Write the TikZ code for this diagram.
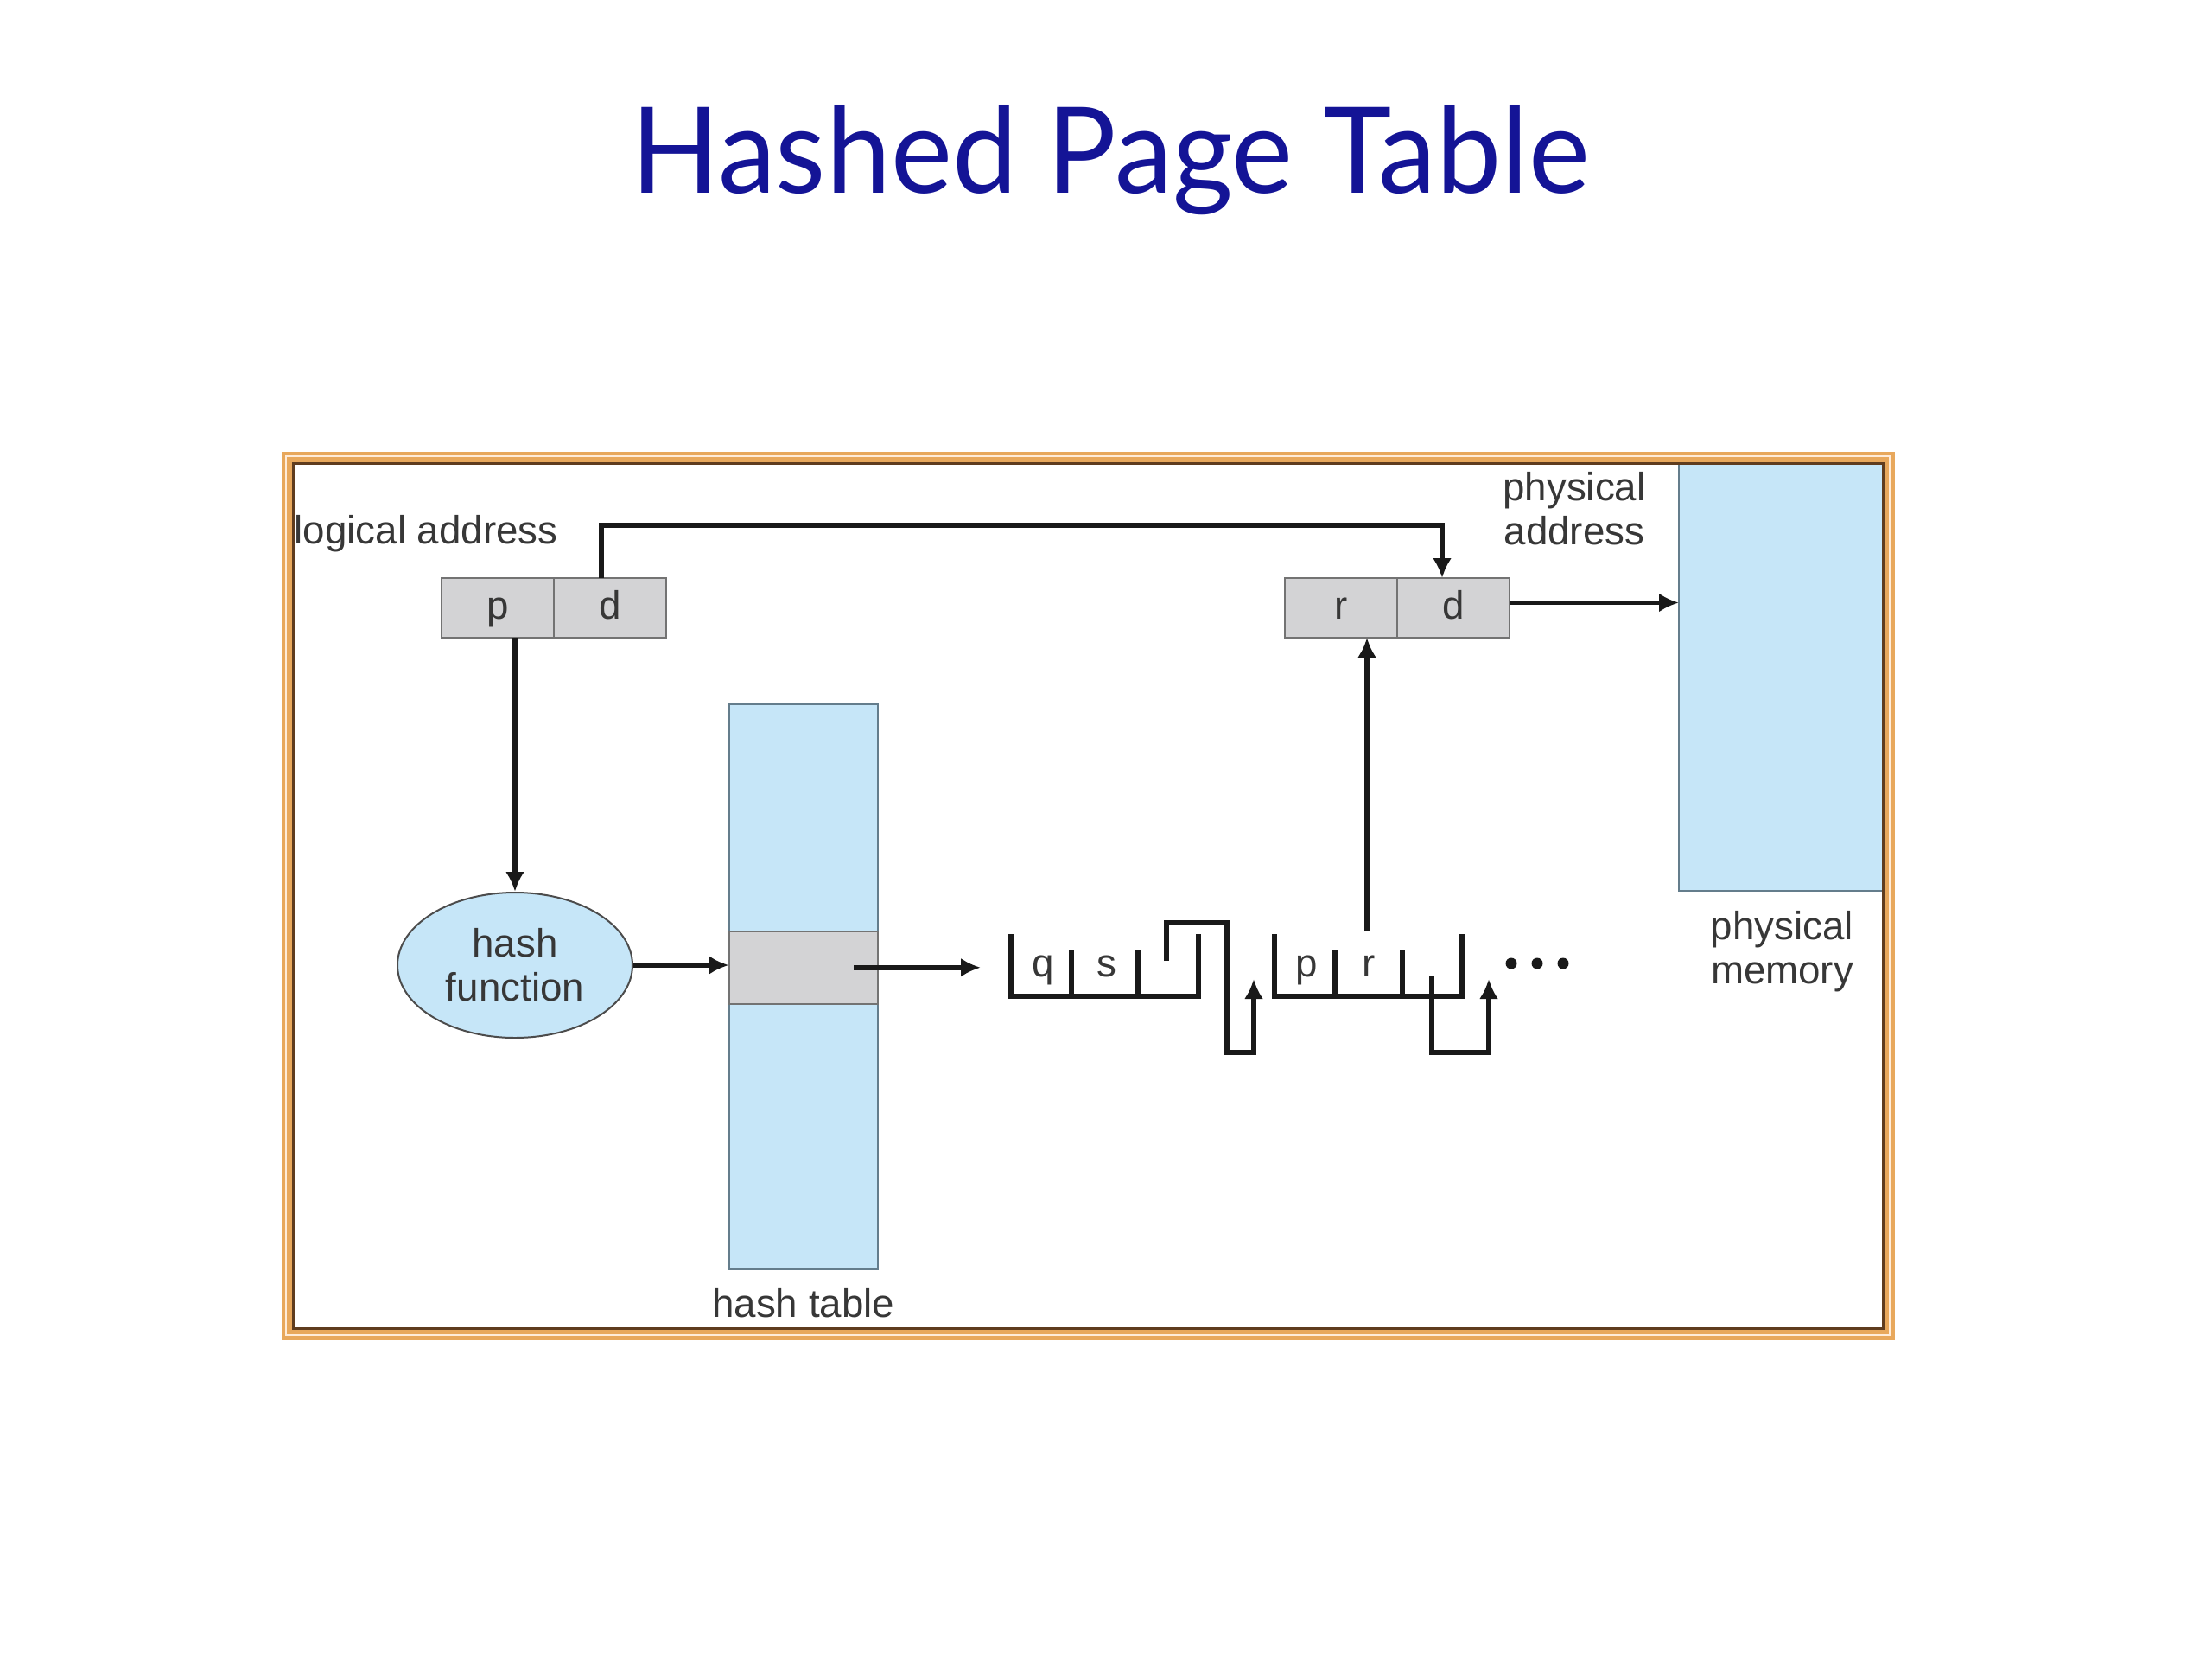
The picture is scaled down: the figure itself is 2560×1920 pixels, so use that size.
\documentclass[tikz,border=0pt]{standalone}
\usepackage{fontspec}
\setmainfont{Liberation Sans}
\newfontfamily\titlefont{Lato}
\usetikzlibrary{arrows.meta,shapes.geometric,positioning}
\definecolor{cellgray}{RGB}{211,211,213}
\definecolor{tblblue}{RGB}{198,230,248}
\definecolor{tblline}{RGB}{100,125,140}
\definecolor{txtgray}{RGB}{55,55,55}
\definecolor{titleblue}{RGB}{20,20,150}
\definecolor{frameorange}{RGB}{232,168,92}
\definecolor{framedark}{RGB}{95,60,30}

\begin{document}
\begin{tikzpicture}[x=0.1mm, y=-0.1mm, >={Latex[length=2.3mm,width=2.2mm]},
  lbl/.style={font=\fontsize{13}{14.5}\selectfont, text=txtgray, align=center, inner sep=0pt},
  cell/.style={lbl, draw=black!55, fill=cellgray, line width=0.2mm, minimum width=13mm, minimum height=6.9mm, outer sep=0pt, text height=9.4pt, text depth=2pt},
  mem/.style={draw=tblline, fill=tblblue, line width=0.2mm, inner sep=0pt, outer sep=0pt},
  arr/.style={->, line width=0.55mm, black!90},
  chain/.style={line width=0.55mm, black!90}]
  \useasboundingbox (0,0) rectangle (2560,1920);
  \node[text=titleblue, inner sep=0pt, anchor=base] (title) at (1285,223) {\resizebox{110.9mm}{10.2mm}{\titlefont Hashed Page Table}};

  \node[mem, minimum width=23.9mm, minimum height=49.8mm] (memory) at (2062.5,782) {};
  \node[lbl, below=2.3mm of memory] (mlabel) {physical\\memory};
  \node[mem, minimum width=17.25mm, minimum height=65.4mm] (table) at (929.75,1142) {};
  \node[cell, minimum width=17.25mm, minimum height=8.35mm] (band) at (929.75,1119.75) {};
  \node[lbl, below=2.2mm of table] (tlabel) {hash table};

  \node[cell] (p) at (576,703.5) {p};
  \node[cell, right=0pt of p] (d) {d};
  \node[cell] (r) at (1552,703.5) {r};
  \node[cell, right=0pt of r] (d2) {d};
  \node[lbl, anchor=base west] (laddr) at (340,629) {logical address};
  \node[lbl] (paddr) at (1822,589) {physical\\address};
  \node[lbl, ellipse, draw=black!70, fill=tblblue, line width=0.2mm, minimum width=27.2mm, minimum height=16.8mm] (hash) at (596,1117) {hash\\function};

  \node[lbl, anchor=base] (cq) at (1207,1130) {q};
  \node[lbl, anchor=base] (cs) at (1281,1130) {s};
  \node[lbl, anchor=base] (cp) at (1512,1130) {p};
  \node[lbl, anchor=base] (cr) at (1584,1130) {r};
  \coordinate (e1) at (1170,1153);
  \coordinate (e2) at (1475,1153);
  \coordinate (head) at (1135,1119.75);
  \coordinate (rslot) at (1582,1078);

  \draw[chain] (e1) ++(0,-72) -- (e1) -- ++(217,0) -- ++(0,-72)
    (e1) ++(70,0) -- ++(0,-53) (e1) ++(147,0) -- ++(0,-53);
  \draw[chain] (e2) ++(0,-72) -- (e2) -- ++(217,0) -- ++(0,-72)
    (e2) ++(70,0) -- ++(0,-53) (e2) ++(148,0) -- ++(0,-53);
  \draw[chain, ->] ([shift={(180,-41)}]e1) -- ++(0,-44) -- ++(70,0) -- ++(0,150) -- ++(31,0) -- ++(0,-85);
  \draw[chain, ->] ([shift={(182,-23)}]e2) -- ++(0,88) -- ++(66,0) -- ++(0,-85);
  \fill[black!90] (1749,1115) circle (6.5) (1779,1115) circle (6.5) (1809,1115) circle (6.5);

  \draw[arr] ([xshift=-1mm]d.north) -- ++(0,-61) -| ([xshift=-1.3mm]d2.north);
  \draw[arr] (hash.north |- p.south) -- (hash.north);
  \draw[arr] (hash.east) -- (band.west |- hash.east);
  \draw[arr] ([xshift=-2.8mm]band.east) -- (head);
  \draw[arr] (rslot) -- (rslot |- r.south);
  \draw[arr] ([yshift=0.6mm]d2.east) -- ([yshift=0.6mm]d2.east -| memory.west);

  \draw[frameorange, line width=1.3mm] (332,529) rectangle (2186,1544);
  \draw[orange!15, line width=0.25mm] (331,528) rectangle (2187,1545);
  \draw[framedark, line width=0.3mm] (339,536) rectangle (2179,1537);
\end{tikzpicture}
\end{document}
